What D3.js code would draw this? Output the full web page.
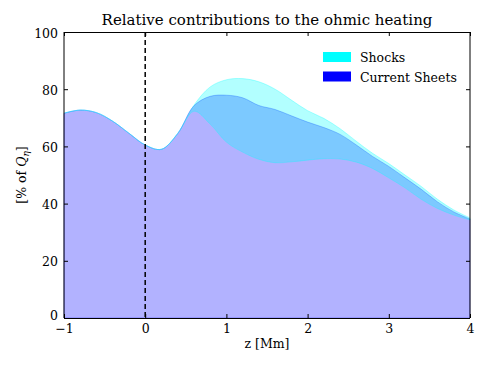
<!DOCTYPE html>
<html>
<head>
<meta charset="utf-8">
<script src="https://cdn.jsdelivr.net/npm/d3@7"></script>
<style>
body{margin:0;background:#fff;}
text{font-family:'DejaVu Serif',serif;}
</style>
</head>
<body>
<div class="box"></div>
<script>
// z positions [Mm]
const zs=[-1,-0.8,-0.6,-0.4,-0.2,0,0.2,0.4,0.6,0.8,1,1.2,1.4,1.6,1.8,2,2.2,2.4,2.6,2.8,3,3.2,3.4,3.6,3.8,4];
// lower edge of shocks band
const lowV=[71.6,72.7,71.8,68.8,64.6,60.5,59.0,64.5,72.3,67.8,61.5,58.0,55.5,54.3,54.6,55.2,55.7,55.6,54.5,52.3,49.0,45.5,41.5,38.3,36.0,34.3];
// current sheets
const sheetV=[71.6,72.7,71.8,68.8,64.6,60.5,59.0,64.5,74.2,77.5,77.9,77.0,74.3,72.9,70.7,68.5,66.6,64.2,60.5,56.5,53.0,49.0,45.0,40.6,37.1,34.6];
// upper edge of shocks band
const topV=[71.6,72.7,71.8,68.8,64.6,60.5,59.0,64.5,74.4,80.8,83.3,83.7,82.6,80.0,76.2,72.5,69.8,66.2,61.8,57.6,54.0,50.0,46.0,41.5,37.8,35.0];
const xTicks=[-1,0,1,2,3,4];
const yTicks=[0,20,40,60,80,100];

const W=488,H=366;
const margin={top:32,right:18,bottom:48,left:64};
const graphW=W-margin.left-margin.right;
const graphH=H-margin.top-margin.bottom;
const svg=d3.select('.box').append('svg').attr('width',W).attr('height',H);
const g=svg.append('g').attr('transform',`translate(${margin.left},${margin.top})`);

const x=d3.scaleLinear().domain([-1,4]).range([0,graphW]);
const y=d3.scaleLinear().domain([0,100]).range([graphH,0]);
const pts=zs.map((z,i)=>({z,lo:lowV[i],cs:sheetV[i],hi:topV[i]}));

const sheetArea=d3.area().x(d=>x(d.z)).y0(y(0)).y1(d=>y(d.cs)).curve(d3.curveCatmullRom);
const shockArea=d3.area().x(d=>x(d.z)).y0(d=>y(d.lo)).y1(d=>y(d.hi)).curve(d3.curveCatmullRom);

g.append('path').datum(pts).attr('d',sheetArea)
  .attr('fill','blue').attr('fill-opacity',0.3)
  .attr('stroke','blue').attr('stroke-opacity',0.3).attr('stroke-width',1);
g.append('path').datum(pts).attr('d',shockArea)
  .attr('fill','cyan').attr('fill-opacity',0.3)
  .attr('stroke','cyan').attr('stroke-opacity',0.3).attr('stroke-width',1);

// dashed z=0
g.append('line').attr('x1',x(0)).attr('x2',x(0)).attr('y1',0).attr('y2',graphH)
  .attr('stroke','#000').attr('stroke-width',1.5).attr('stroke-dasharray','5,3');

// axes, ticks inward like classic matplotlib
const axB=d3.axisBottom(x).tickValues(xTicks).tickSize(-4).tickPadding(6).tickFormat(d=>d<0?'\u2212'+(-d):d);
const axT=d3.axisTop(x).tickValues(xTicks).tickSize(-4).tickFormat('');
const axL=d3.axisLeft(y).tickValues(yTicks).tickSize(-4).tickPadding(6);
const axR=d3.axisRight(y).tickValues(yTicks).tickSize(-4).tickFormat('');
const gB=g.append('g').attr('transform',`translate(0,${graphH})`).call(axB);
const gT=g.append('g').call(axT);
const gL=g.append('g').call(axL);
const gR=g.append('g').attr('transform',`translate(${graphW},0)`).call(axR);
[gB,gT,gL,gR].forEach(a=>{
  a.select('.domain').remove();
  a.selectAll('.tick line').attr('stroke','#000');
  a.selectAll('.tick text').attr('font-size',12.5).attr('fill','#000').style('font-family',"'DejaVu Serif',serif");
});
gL.selectAll('.tick text').attr('dy',d=>d===0?'0.15em':'0.4em');

// frame
g.append('line').attr('x1',0).attr('x2',graphW).attr('y1',0.5).attr('y2',0.5).attr('stroke','#000');
g.append('line').attr('x1',0).attr('x2',graphW).attr('y1',graphH+0.5).attr('y2',graphH+0.5).attr('stroke','#000');
g.append('line').attr('x1',0).attr('x2',0).attr('y1',0).attr('y2',graphH).attr('stroke','#000');
g.append('line').attr('x1',graphW).attr('x2',graphW).attr('y1',0).attr('y2',graphH).attr('stroke','#000');

// title and labels
svg.append('text').attr('x',margin.left+graphW/2).attr('y',25).attr('text-anchor','middle')
  .attr('font-size',15).text('Relative contributions to the ohmic heating');
svg.append('text').attr('x',margin.left+graphW/2).attr('y',348).attr('text-anchor','middle')
  .attr('font-size',12.5).text('z [Mm]');
const yl=svg.append('text').attr('transform',`translate(26,${margin.top+graphH/2}) rotate(-90)`)
  .attr('text-anchor','middle').attr('font-size',12.5);
yl.append('tspan').text('[% of ');
yl.append('tspan').attr('font-style','italic').text('Q');
yl.append('tspan').attr('font-style','italic').attr('font-size',9).attr('dy',3).text('\u03b7');
yl.append('tspan').attr('dy',-3).text(']');

// legend
const legend=[{name:'Shocks',color:'cyan'},{name:'Current Sheets',color:'blue'}];
const lg=svg.append('g').attr('transform','translate(323,52)');
legend.forEach((l,i)=>{
  lg.append('rect').attr('x',0).attr('y',i*19.5).attr('width',28).attr('height',10).attr('fill',l.color);
  lg.append('text').attr('x',37).attr('y',i*19.5+10).attr('font-size',12.5).text(l.name);
});
</script>
</body>
</html>
